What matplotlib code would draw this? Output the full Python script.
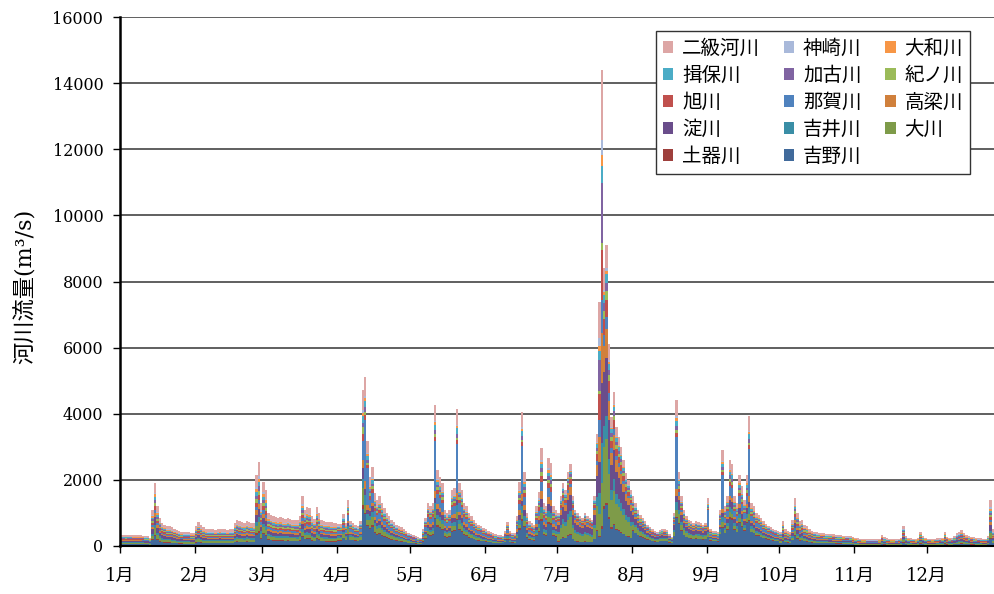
import numpy as np
import matplotlib.pyplot as plt
from matplotlib.ticker import FixedLocator

# daily total river discharge (m3/s), one list per month
jan = [330, 330, 335, 330, 330, 325, 325, 320, 320, 315, 310, 300, 250, 1100, 1900, 1200,
       850, 700, 650, 600, 600, 560, 520, 480, 450, 430, 420, 420, 410, 400, 400]
feb = [600, 730, 650, 560, 520, 500, 510, 500, 490, 500, 520, 510, 500, 490, 500, 510,
       700, 800, 750, 720, 700, 760, 720, 700, 690, 2150, 2540, 1300]
mar = [1940, 1700, 1000, 950, 900, 880, 850, 880, 840, 830, 850, 820, 800, 790, 780, 900,
       1500, 1100, 1180, 1150, 900, 820, 1180, 1000, 800, 760, 740, 730, 720, 700, 700]
apr = [680, 660, 970, 700, 1390, 750, 700, 650, 620, 750, 4720, 5110, 3180, 2090, 2390,
       1600, 1400, 1500, 1300, 1150, 1000, 900, 800, 720, 650, 600, 560, 500, 450, 400]
may = [360, 320, 290, 260, 240, 500, 850, 1300, 1200, 1300, 4270, 2300, 2100, 1900, 1100,
       1000, 1100, 1700, 1750, 4140, 1900, 1700, 1300, 1200, 1000, 900, 800, 700, 650, 600, 550]
jun = [500, 450, 420, 380, 350, 330, 320, 310, 450, 720, 450, 400, 380, 900, 1930, 4050,
       2240, 1000, 750, 700, 650, 1200, 1630, 2960, 1300, 1200, 2660, 2500, 1200, 1100]
jul = [1000, 1500, 1900, 1700, 2240, 2480, 1500, 1100, 1000, 900, 850, 1000, 900, 850, 800,
       1500, 3400, 7380, 14400, 8400, 9100, 6100, 3900, 4660, 3600, 3300, 3000, 2600, 2200,
       2000, 1700]
aug = [1500, 1300, 1100, 950, 850, 750, 650, 580, 500, 450, 420, 480, 520, 500, 480, 350,
       280, 1000, 4420, 2240, 1500, 1100, 900, 800, 750, 700, 750, 720, 700, 650, 700]
sep = [1450, 500, 450, 450, 420, 1100, 2900, 1200, 1500, 2600, 2480, 1500, 1300, 2150, 1800,
       1400, 2150, 3930, 1300, 1200, 1000, 950, 850, 750, 680, 620, 560, 520, 480, 450]
oct_ = [430, 750, 500, 450, 420, 800, 1450, 1000, 750, 800, 650, 600, 500, 460, 430, 410,
        400, 390, 380, 370, 360, 360, 350, 340, 330, 320, 310, 300, 300, 290, 270]
nov = [250, 230, 220, 210, 210, 200, 200, 200, 200, 200, 210, 330, 260, 230, 220, 210, 210,
       200, 220, 250, 610, 300, 250, 230, 220, 210, 250, 430, 300, 250]
dec = [220, 220, 210, 220, 230, 240, 250, 430, 280, 250, 240, 300, 380, 420, 470, 400, 330,
       300, 280, 260, 250, 240, 230, 220, 220, 300, 1390, 500, 400, 350, 320]

month_labels = ['1月', '2月', '3月', '4月', '5月', '6月', '7月', '8月', '9月', '10月', '11月', '12月']

# rivers from the bottom of the stack to the top
rivers = ['吉野川', '土器川', '大川', '吉井川', '淀川', '高梁川', '那賀川',
          '旭川', '紀ノ川', '加古川', '揖保川', '大和川', '神崎川', '二級河川']
colors = ['#416A9B', '#9E3F3C', '#7E9B49', '#3A8EA6', '#6A4D8B', '#D0803C', '#4F82BE',
          '#C0504D', '#9BBB59', '#8064A2', '#4BACC6', '#F79646', '#A9B9DA', '#DDA6A5']

# share of each river in the monthly flow (%)
month_share = {
    '吉野川':   [16, 16, 18, 24, 26, 26, 14, 30, 32, 22, 16, 16],
    '土器川':   [2, 2, 2, 2, 2, 2, 1, 2, 2, 2, 2, 2],
    '大川':     [10, 10, 9, 11, 8, 6, 22, 12, 6, 8, 10, 10],
    '吉井川':   [6, 6, 6, 6, 6, 7, 8, 6, 6, 6, 6, 6],
    '淀川':     [12, 10, 9, 7, 8, 8, 20, 14, 8, 10, 12, 12],
    '高梁川':   [6, 6, 6, 5, 6, 8, 10, 5, 5, 6, 6, 6],
    '那賀川':   [5, 5, 6, 12, 14, 10, 4, 6, 12, 8, 5, 5],
    '旭川':     [6, 6, 6, 5, 5, 6, 6, 4, 4, 5, 6, 6],
    '紀ノ川':   [5, 5, 5, 4, 4, 4, 3, 4, 4, 7, 5, 5],
    '加古川':   [5, 5, 5, 3, 3, 4, 3, 3, 4, 4, 5, 5],
    '揖保川':   [5, 5, 5, 4, 4, 4, 3, 3, 4, 4, 5, 5],
    '大和川':   [4, 4, 4, 2, 2, 3, 1, 2, 2, 3, 4, 4],
    '神崎川':   [3, 3, 3, 2, 2, 2, 1, 1, 1, 2, 3, 3],
    '二級河川': [15, 17, 16, 13, 12, 12, 8, 10, 11, 14, 16, 16],
}
# flood days where 那賀川 carries most of the flow
spike_days = [101, 102, 130, 139, 166, 230, 243, 249, 260]
spike_share = [20, 1, 5, 6, 4, 5, 38, 3, 2, 3, 4, 2, 1, 12]
# July flood peak
peak_days = [198, 199]
peak_share = [3.5, 0.7, 9, 8.3, 12.5, 10.4, 7, 10.4, 1.4, 12.5, 3.5, 2.3, 3.1, 14.7]

total = np.array(jan + feb + mar + apr + may + jun + jul + aug + sep + oct_ + nov + dec, float)
month_len = [len(m) for m in (jan, feb, mar, apr, may, jun, jul, aug, sep, oct_, nov, dec)]
month_start = np.concatenate([[0], np.cumsum(month_len)[:-1]])
month_idx = np.repeat(np.arange(12), month_len)

share = np.array([month_share[r] for r in rivers], float)[:, month_idx]
for d in spike_days:
    share[:, d] = spike_share
for d in peak_days:
    share[:, d] = peak_share
share /= share.sum(axis=0)
flows = share * total

fig = plt.figure(figsize=(9.95, 5.94), dpi=100)
ax = fig.add_axes([120 / 995, 48 / 594, 881.5 / 995, 529 / 594])

x = np.arange(len(total)) + 0.5
bottom = np.zeros(len(total))
for name, c, f in zip(rivers, colors, flows):
    ax.bar(x, f, width=1.0, bottom=bottom, color=c, linewidth=0, label=name, zorder=2)
    bottom += f

ax.set_xlim(0, len(total))
ax.set_ylim(0, 16000)
ax.set_yticks(np.arange(0, 16001, 2000))
ax.set_yticklabels([str(v) for v in range(0, 16001, 2000)],
                   family='DejaVu Serif', fontsize=11.5)
ax.xaxis.set_major_locator(FixedLocator(month_start))
ax.set_xticklabels(month_labels, family=['DejaVu Serif', 'Noto Sans CJK JP'], fontsize=13)
ax.tick_params(axis='y', direction='out', length=5, width=1, pad=7)
ax.tick_params(axis='x', direction='out', length=5, width=1, pad=10)

ax.yaxis.grid(True, color='#444444', linewidth=1.2, zorder=1)
ax.set_axisbelow(True)
for s in ('top', 'right'):
    ax.spines[s].set_visible(False)
ax.spines['left'].set_linewidth(1.8)
ax.spines['bottom'].set_linewidth(1.5)

ax.set_ylabel('河川流量(m³/s)', family=['DejaVu Serif', 'Noto Sans CJK JP'], fontsize=16)
ax.yaxis.set_label_coords(-0.094, 0.49)

# legend: top series first, filled row by row in three columns
handles, labels = ax.get_legend_handles_labels()
handles, labels = handles[::-1], labels[::-1]
order = [i for col in range(3) for i in range(col, len(handles), 3)]
leg = ax.legend([handles[i] for i in order], [labels[i] for i in order], ncol=3,
                loc='upper left', bbox_to_anchor=(656 / 995, 1 - 31 / 594),
                bbox_transform=fig.transFigure, frameon=True, fancybox=False,
                edgecolor='#333333', framealpha=1, borderaxespad=0,
                prop={'family': 'Noto Sans CJK JP', 'size': 14},
                handlelength=0.55, handleheight=0.55, handletextpad=0.45,
                columnspacing=1.2, labelspacing=0.31, borderpad=0.35)
leg.get_frame().set_linewidth(1.0)

fig.savefig('out.png', dpi=100)
